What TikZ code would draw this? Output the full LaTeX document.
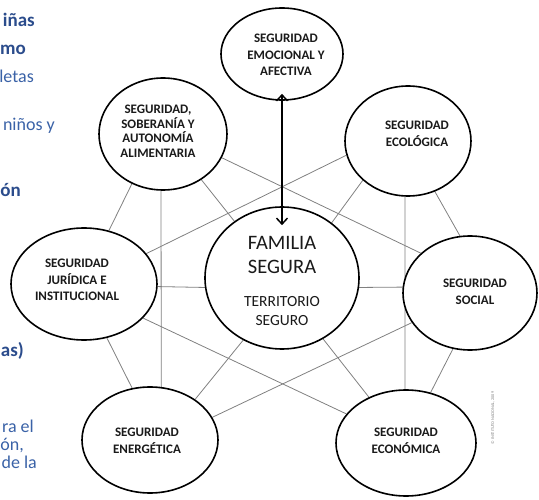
\documentclass[tikz,border=0pt]{standalone}
\usepackage{fontspec}
\setmainfont{Carlito}
\usetikzlibrary{shapes.geometric,arrows.meta,backgrounds}
\definecolor{txt}{HTML}{1A1A1A}
\definecolor{web}{HTML}{808080}
\definecolor{blueB}{HTML}{2B4C8C}
\definecolor{blueR}{HTML}{3A62A7}
\begin{document}
\begin{tikzpicture}[x=1pt,y=-1pt,
  oval/.style={ellipse, draw=black, line width=1.6pt, fill=white, inner sep=0pt},
  lbl/.style={align=center, font=\bfseries\fontsize{13}{16.5}\selectfont, text=txt, inner sep=0pt},
  webline/.style={draw=web, line width=0.8pt},
  frag/.style={anchor=base east, inner sep=0pt, text=blueR, font=\fontsize{18}{21}\selectfont},
  fragb/.style={anchor=base east, inner sep=0pt, text=blueB, font=\bfseries\fontsize{19}{22}\selectfont},
  dbl/.style={{Straight Barb[length=6pt,width=11pt]}-{Straight Barb[length=6pt,width=11pt]}, line width=1.5pt, shorten <=-7pt, shorten >=-19pt}
]
\useasboundingbox (0,0) rectangle (539,500);

% ellipses
\node[oval, minimum width=122pt, minimum height=92pt]  (emo)  at (282,54)  {};
\node[oval, minimum width=128pt, minimum height=112pt] (sob)  at (163,134) {};
\node[oval, minimum width=126pt, minimum height=110pt] (eco)  at (408,141) {};
\node[oval, minimum width=146pt, minimum height=112pt] (jur)  at (84,284)  {};
\node[oval, minimum width=134pt, minimum height=114pt] (soc)  at (470,293) {};
\node[oval, minimum width=136pt, minimum height=106pt] (ener) at (150,440) {};
\node[oval, minimum width=140pt, minimum height=106pt] (econ) at (406,443) {};
\node[oval, minimum width=154pt, minimum height=142pt] (fam)  at (282,278) {};

% web of connectors
\begin{scope}[on background layer]
\draw[webline] (sob.-122) -- (jur.65);
\draw[webline] (sob.-92)  -- (ener.78);
\draw[webline] (sob.-50)  -- (fam.130);
\draw[webline] (sob.-22)  -- (soc.141);
\draw[webline] (eco.-167) -- (jur.26);
\draw[webline] (eco.-139) -- (fam.48);
\draw[webline] (eco.-93)  -- (econ.91);
\draw[webline] (eco.-62)  -- (soc.100);
\draw[webline] (jur.-2)   -- (fam.-173);
\draw[webline] (fam.-7)   -- (soc.175);
\draw[webline] (jur.-30)  -- (econ.154);
\draw[webline] (jur.-67)  -- (ener.109);
\draw[webline] (soc.-153) -- (ener.20);
\draw[webline] (fam.-122) -- (ener.42);
\draw[webline] (fam.-56)  -- (econ.129);
\draw[webline] (soc.-107) -- (econ.64);
\end{scope}

% double arrow
\draw[dbl] (emo.south) -- (fam.north);

% labels
\node[lbl] (emoT) at (286,55) {SEGURIDAD\\EMOCIONAL Y\\AFECTIVA};
\node[lbl, font=\bfseries\fontsize{13}{14.5}\selectfont] (sobT) at (158,131) {SEGURIDAD,\\SOBERANÍA Y\\AUTONOMÍA\\ALIMENTARIA};
\node[lbl] (ecoT) at (417,134) {SEGURIDAD\\ECOLÓGICA};
\node[lbl] (jurT) at (77,280) {SEGURIDAD\\JURÍDICA E\\INSTITUCIONAL};
\node[lbl] (socT) at (475,292) {SEGURIDAD\\SOCIAL};
\node[lbl] (enerT) at (147,441) {SEGURIDAD\\ENERGÉTICA};
\node[lbl] (econT) at (406,441) {SEGURIDAD\\ECONÓMICA};
\node[align=center, inner sep=0pt, text=txt, font=\fontsize{20.5}{24}\selectfont] (famA) at (282,255) {FAMILIA\\SEGURA};
\node[align=center, inner sep=0pt, text=txt, font=\fontsize{15.5}{19}\selectfont] (famB) at (282,311.5) {TERRITORIO\\SEGURO};

% clipped text fragments at the left edge
\node[fragb] (f1) at (35,27)  {iñas};
\node[fragb] (f2) at (26,55)  {mo};
\node[frag]  (f3) at (34,83)  {letas};
\node[frag]  (f4) at (55,131) {niños y};
\node[fragb] (f5) at (21,197) {ón};
\node[fragb] (f6) at (24,356) {as)};
\node[frag]  (f7) at (34,432) {ra el};
\node[frag]  (f8) at (24,450) {ón,};
\node[frag]  (f9) at (37,468) {de la};

% copyright
\node[rotate=90, inner sep=0pt, text=gray, font=\fontsize{4.2}{5}\selectfont] (copy) at (493,418) {© INSTITUTO NACIONAL, 2009};
\end{tikzpicture}
\end{document}
